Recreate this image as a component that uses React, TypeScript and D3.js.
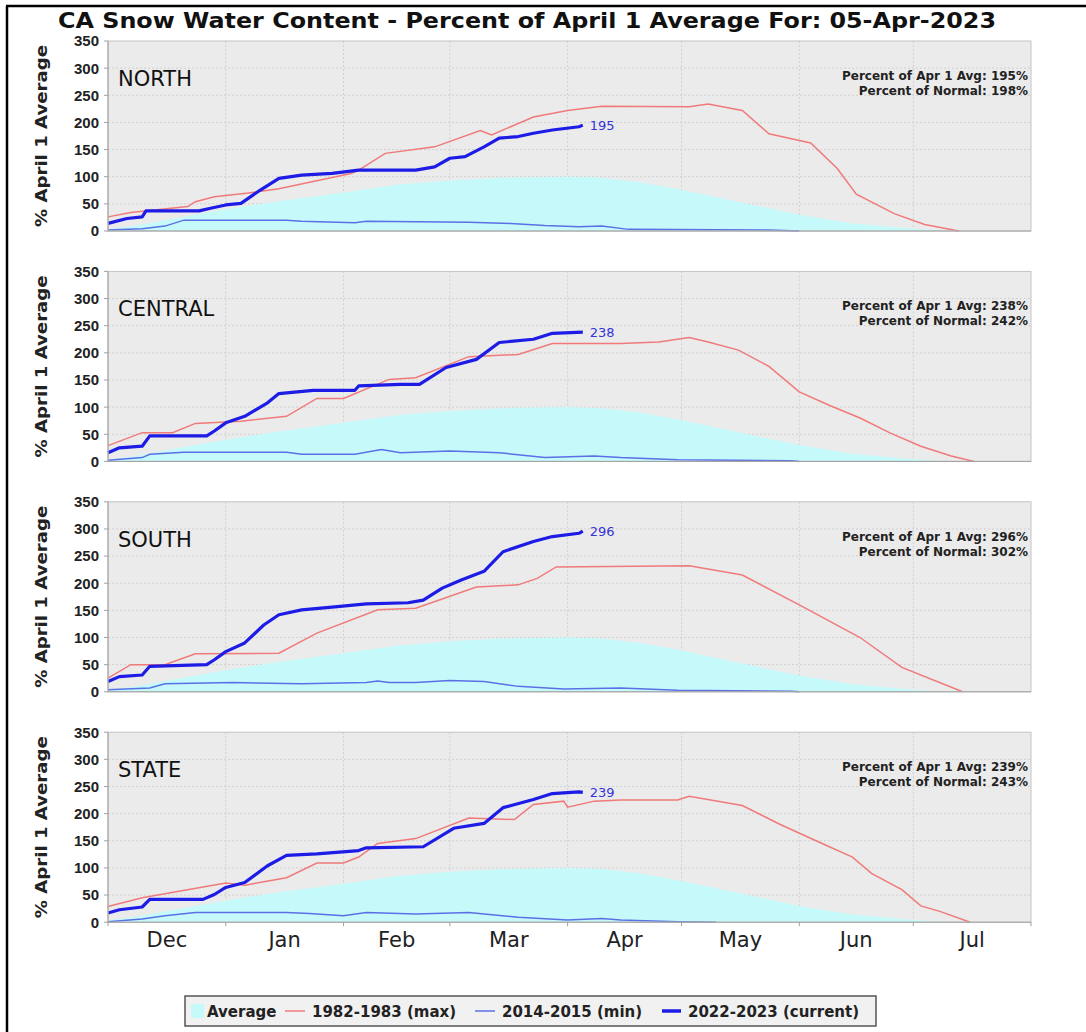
import React from "react";
import * as d3 from "d3";

// Page + plot geometry
const WIDTH = 1086;
const HEIGHT = 1032;
const PLOT_LEFT = 108;
const PLOT_RIGHT = 1031;
const PANEL_TOP = 41;
const PANEL_STEP = 230.4;
const PANEL_H = 190;

type Pt = [string, number];

// Season runs Dec 2022 .. Jul 2023 ("MM-DD")
const parseDay = (s: string) => {
  const [m, d] = s.split("-").map(Number);
  return new Date(m === 12 ? 2022 : 2023, m - 1, d);
};
const seasonStart = new Date(2022, 11, 1);
const seasonEnd = new Date(2023, 7, 1);

// Average (same curve for all regions, 100 = April 1 average)
const average: Pt[] = [
  ["12-01", 3], ["12-10", 12], ["12-20", 25], ["01-01", 40], ["01-15", 55],
  ["02-01", 71], ["02-15", 85], ["03-01", 93], ["03-15", 98], ["04-01", 100],
  ["04-10", 98], ["04-20", 90], ["05-01", 76], ["05-15", 55], ["06-01", 30],
  ["06-15", 14], ["07-01", 4], ["07-12", 0],
];

// NORTH
const northMax: Pt[] = [
  ["12-01", 26], ["12-07", 34], ["12-22", 45], ["12-24", 54], ["12-29", 63],
  ["01-07", 70], ["01-15", 78], ["01-24", 91], ["02-03", 106], ["02-05", 112],
  ["02-12", 143], ["02-25", 155], ["03-09", 185], ["03-12", 177], ["03-23", 210],
  ["04-01", 222], ["04-10", 230], ["05-03", 229], ["05-08", 234], ["05-17", 222],
  ["05-24", 179], ["06-04", 162], ["06-11", 115], ["06-16", 68], ["06-26", 32],
  ["07-04", 12], ["07-13", 0],
];
const northMin: Pt[] = [
  ["12-01", 2], ["12-10", 4], ["12-16", 9], ["12-21", 20], ["01-17", 20],
  ["01-21", 18], ["02-04", 15], ["02-07", 18], ["03-06", 16], ["03-17", 14],
  ["03-26", 10], ["04-04", 8], ["04-10", 9], ["04-17", 3], ["05-24", 2], ["06-01", 0],
];
const northCurrent: Pt[] = [
  ["12-01", 14], ["12-06", 23], ["12-10", 26], ["12-11", 37], ["12-25", 37],
  ["12-28", 42], ["01-01", 48], ["01-05", 51], ["01-10", 75], ["01-15", 97],
  ["01-21", 103], ["01-29", 106], ["02-05", 112], ["02-20", 112], ["02-25", 118],
  ["03-01", 134], ["03-05", 137], ["03-10", 155], ["03-14", 171], ["03-19", 174],
  ["03-23", 180], ["03-28", 186], ["04-04", 192], ["04-05", 195],
];

// CENTRAL
const centralMax: Pt[] = [
  ["12-01", 29], ["12-10", 53], ["12-18", 53], ["12-24", 70], ["01-05", 74],
  ["01-17", 83], ["01-25", 116], ["02-01", 116], ["02-13", 151], ["02-20", 154],
  ["03-06", 193], ["03-19", 197], ["03-28", 217], ["04-15", 217], ["04-25", 220],
  ["05-03", 228], ["05-08", 220], ["05-16", 205], ["05-24", 175], ["06-01", 128],
  ["06-09", 103], ["06-17", 80], ["06-25", 52], ["07-03", 28], ["07-11", 10], ["07-17", 0],
];
const centralMin: Pt[] = [
  ["12-01", 2], ["12-10", 7], ["12-12", 13], ["12-21", 17], ["01-17", 17],
  ["01-21", 13], ["02-04", 13], ["02-11", 22], ["02-16", 16], ["03-01", 19],
  ["03-14", 16], ["03-26", 7], ["04-08", 10], ["04-15", 7], ["04-30", 3],
  ["05-30", 1], ["06-01", 0],
];
const centralCurrent: Pt[] = [
  ["12-01", 16], ["12-04", 25], ["12-10", 28], ["12-12", 47], ["12-27", 47],
  ["12-29", 56], ["01-01", 71], ["01-06", 83], ["01-12", 108], ["01-15", 125],
  ["01-24", 131], ["02-04", 131], ["02-05", 139], ["02-16", 142], ["02-21", 142],
  ["02-28", 173], ["03-08", 188], ["03-14", 219], ["03-23", 225], ["03-28", 236],
  ["04-05", 238],
];

// SOUTH
const southMax: Pt[] = [
  ["12-01", 25], ["12-07", 50], ["12-16", 50], ["12-24", 70], ["01-15", 71],
  ["01-25", 108], ["02-10", 151], ["02-20", 154], ["03-08", 193], ["03-19", 197],
  ["03-24", 209], ["03-29", 230], ["05-03", 232], ["05-17", 215], ["06-01", 160],
  ["06-17", 100], ["06-28", 45], ["07-14", 0],
];
const southMin: Pt[] = [
  ["12-01", 4], ["12-12", 7], ["12-16", 15], ["01-03", 17], ["01-21", 15],
  ["02-07", 17], ["02-10", 20], ["02-13", 17], ["02-20", 17], ["03-01", 21],
  ["03-10", 19], ["03-19", 10], ["03-31", 5], ["04-15", 7], ["04-30", 3],
  ["05-30", 1], ["06-01", 0],
];
const southCurrent: Pt[] = [
  ["12-01", 19], ["12-04", 28], ["12-10", 31], ["12-12", 47], ["12-27", 50],
  ["12-29", 59], ["01-01", 74], ["01-06", 90], ["01-11", 123], ["01-15", 142],
  ["01-21", 151], ["01-29", 156], ["02-07", 162], ["02-18", 164], ["02-22", 169],
  ["02-27", 191], ["03-04", 206], ["03-10", 222], ["03-15", 258], ["03-23", 277],
  ["03-28", 286], ["04-04", 292], ["04-05", 296],
];

// STATE
const stateMax: Pt[] = [
  ["12-01", 29], ["12-10", 45], ["01-01", 72], ["01-06", 68], ["01-17", 82],
  ["01-25", 109], ["02-01", 109], ["02-05", 120], ["02-10", 145], ["02-20", 154],
  ["03-06", 192], ["03-18", 189], ["03-23", 217], ["03-31", 223], ["04-01", 212],
  ["04-08", 223], ["04-15", 225], ["04-30", 225], ["05-03", 232], ["05-17", 215],
  ["05-27", 180], ["06-07", 145], ["06-15", 120], ["06-20", 90], ["06-28", 60],
  ["07-03", 30], ["07-08", 20], ["07-16", 0],
];
const stateMin: Pt[] = [
  ["12-01", 1], ["12-10", 6], ["12-16", 12], ["12-24", 18], ["01-17", 18],
  ["01-23", 16], ["02-01", 12], ["02-07", 18], ["02-20", 15], ["03-06", 18],
  ["03-19", 9], ["04-01", 4], ["04-10", 7], ["04-15", 4], ["04-30", 1], ["05-10", 0],
];
const stateCurrent: Pt[] = [
  ["12-01", 17], ["12-04", 23], ["12-10", 28], ["12-12", 42], ["12-26", 42],
  ["12-29", 51], ["01-01", 64], ["01-06", 73], ["01-12", 104], ["01-17", 123],
  ["01-25", 126], ["02-05", 132], ["02-07", 137], ["02-22", 139], ["03-02", 173],
  ["03-10", 182], ["03-15", 211], ["03-23", 226], ["03-28", 237], ["04-04", 240],
  ["04-05", 239],
];

const regions = ["NORTH", "CENTRAL", "SOUTH", "STATE"];
const pctApr1 = [195, 238, 296, 239];
const pctNormal = [198, 242, 302, 243];
const yTicks = [0, 50, 100, 150, 200, 250, 300, 350];
const legendLabels = ["Average", "1982-1983 (max)", "2014-2015 (min)", "2022-2023 (current)"];

const panels = [
  { max: northMax, min: northMin, current: northCurrent },
  { max: centralMax, min: centralMin, current: centralCurrent },
  { max: southMax, min: southMin, current: southCurrent },
  { max: stateMax, min: stateMin, current: stateCurrent },
];

// Colours
const BG = "#ebebeb";
const GRID = "#d0d0d0";
const AVG_FILL = "#c6fafa";
const MAX_COL = "#f07a7a";
const MIN_COL = "#5a70e6";
const CUR_COL = "#1c1ce6";

const x = d3.scaleTime().domain([seasonStart, seasonEnd]).range([PLOT_LEFT, PLOT_RIGHT]);
const monthTicks = d3.timeMonth.range(seasonStart, d3.timeDay.offset(seasonEnd, 1));

const Panel = ({ i }: { i: number }) => {
  const p = panels[i];
  const top = PANEL_TOP + i * PANEL_STEP;
  const bottom = top + PANEL_H;
  const y = d3.scaleLinear().domain([0, 350]).range([bottom, top]);

  const line = d3
    .line<Pt>()
    .x((d) => x(parseDay(d[0])))
    .y((d) => y(d[1]));
  const area = d3
    .area<Pt>()
    .x((d) => x(parseDay(d[0])))
    .y0(y(0))
    .y1((d) => y(d[1]));

  const last = p.current[p.current.length - 1];
  const isLast = i === panels.length - 1;

  return (
    <g>
      <rect x={PLOT_LEFT} y={top} width={PLOT_RIGHT - PLOT_LEFT} height={PANEL_H} fill={BG} />
      {/* gridlines */}
      {monthTicks.slice(1, -1).map((m) => (
        <line key={+m} x1={x(m)} x2={x(m)} y1={top} y2={bottom} stroke={GRID} strokeDasharray="2,2" />
      ))}
      {yTicks.slice(1, -1).map((t) => (
        <line key={t} x1={PLOT_LEFT} x2={PLOT_RIGHT} y1={y(t)} y2={y(t)} stroke={GRID} strokeDasharray="2,2" />
      ))}
      <path d={area(average) || ""} fill={AVG_FILL} />
      <path d={line(p.max) || ""} fill="none" stroke={MAX_COL} strokeWidth={1.5} />
      <path d={line(p.min) || ""} fill="none" stroke={MIN_COL} strokeWidth={1.5} />
      <path d={line(p.current) || ""} fill="none" stroke={CUR_COL} strokeWidth={3.2} strokeLinejoin="round" />
      <text
        x={x(parseDay(last[0])) + 7}
        y={y(last[1])}
        dy="0.36em"
        fontFamily="DejaVu Sans"
        fontSize={13}
        fill="#3434d8"
      >
        {last[1]}
      </text>

      {/* frame + axis */}
      <rect x={PLOT_LEFT} y={top} width={PLOT_RIGHT - PLOT_LEFT} height={PANEL_H} fill="none" stroke="#c4c4c4" />
      <line x1={PLOT_LEFT} x2={PLOT_LEFT} y1={top} y2={bottom} stroke="#a0a0a0" />
      <line x1={PLOT_LEFT} x2={PLOT_RIGHT} y1={bottom} y2={bottom} stroke="#a0a0a0" />
      {yTicks.map((t) => (
        <g key={t}>
          <line x1={PLOT_LEFT - 4} x2={PLOT_LEFT} y1={y(t)} y2={y(t)} stroke="#a0a0a0" />
          <text
            x={99}
            y={y(t)}
            dy="0.36em"
            textAnchor="end"
            fontFamily="Liberation Sans"
            fontWeight="bold"
            fontSize={15}
            fill="#222"
          >
            {t}
          </text>
        </g>
      ))}
      <text
        transform={`translate(47, ${top + PANEL_H / 2}) rotate(-90)`}
        textAnchor="middle"
        fontFamily="DejaVu Sans"
        fontWeight="bold"
        fontSize={15}
        textLength={182}
        lengthAdjust="spacingAndGlyphs"
        fill="#222"
      >
        % April 1 Average
      </text>

      <text x={118} y={top + 45} fontFamily="DejaVu Sans" fontSize={21} fill="#111">
        {regions[i]}
      </text>
      <text x={1028} y={top + 39} textAnchor="end" fontFamily="DejaVu Sans" fontWeight="bold" fontSize={12} fill="#222">
        {`Percent of Apr 1 Avg: ${pctApr1[i]}%`}
      </text>
      <text x={1028} y={top + 54} textAnchor="end" fontFamily="DejaVu Sans" fontWeight="bold" fontSize={12} fill="#222">
        {`Percent of Normal: ${pctNormal[i]}%`}
      </text>

      {isLast && (
        <g>
          {monthTicks.map((m) => (
            <line key={+m} x1={x(m)} x2={x(m)} y1={bottom} y2={bottom + 4} stroke="#a0a0a0" />
          ))}
          {monthTicks.slice(0, -1).map((m, k) => (
            <text
              key={+m}
              x={(x(m) + x(monthTicks[k + 1])) / 2}
              y={bottom + 25}
              textAnchor="middle"
              fontFamily="DejaVu Sans"
              fontSize={21}
              fill="#222"
            >
              {d3.timeFormat("%b")(m)}
            </text>
          ))}
        </g>
      )}
    </g>
  );
};

const Legend = () => {
  const font = { fontFamily: "DejaVu Sans", fontWeight: "bold" as const, fontSize: 15, fill: "#222" };
  const ly = 1011;
  return (
    <g>
      <rect x={185} y={996} width={691} height={30} fill="#f1f1f1" stroke="#555" strokeWidth={1.5} />
      <rect x={191} y={1004} width={13} height={14} fill={AVG_FILL} />
      <text x={207} y={1017} {...font}>{legendLabels[0]}</text>
      <line x1={285} x2={305} y1={ly} y2={ly} stroke={MAX_COL} strokeWidth={1.5} />
      <text x={312} y={1017} {...font}>{legendLabels[1]}</text>
      <line x1={475} x2={495} y1={ly} y2={ly} stroke={MIN_COL} strokeWidth={1.5} />
      <text x={502} y={1017} {...font}>{legendLabels[2]}</text>
      <line x1={662} x2={681} y1={ly} y2={ly} stroke={CUR_COL} strokeWidth={3.5} />
      <text x={688} y={1017} {...font}>{legendLabels[3]}</text>
    </g>
  );
};

const App = () => {
  return (
    <svg
      width={WIDTH}
      height={HEIGHT}
      style={{ position: "absolute", left: 0, top: 0, background: "#fff" }}
    >
      {/* outer frame (top + left edges visible) */}
      <line x1={6} x2={WIDTH} y1={6} y2={6} stroke="#000" strokeWidth={2.5} />
      <line x1={7} x2={7} y1={6} y2={HEIGHT} stroke="#000" strokeWidth={2.5} />
      <text
        x={58}
        y={28}
        fontFamily="DejaVu Sans"
        fontWeight="bold"
        fontSize={22}
        textLength={938}
        lengthAdjust="spacingAndGlyphs"
        fill="#111"
      >
        CA Snow Water Content - Percent of April 1 Average For: 05-Apr-2023
      </text>
      {panels.map((_, i) => (
        <Panel key={i} i={i} />
      ))}
      <Legend />
    </svg>
  );
};

export default App;
